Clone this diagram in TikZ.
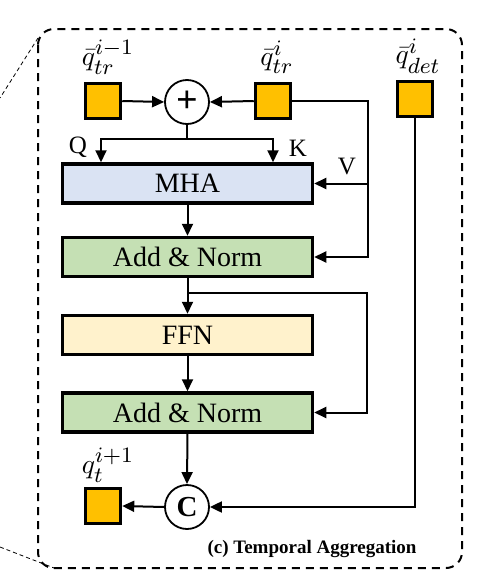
\documentclass[tikz,border=0pt]{standalone}
\usepackage{graphicx}
\usepackage{fontspec}
\setmainfont{Liberation Serif}
\usetikzlibrary{arrows.meta,calc}
\DeclareMathSizes{10}{10}{8}{6}
\definecolor{qorange}{HTML}{FFC000}
\definecolor{mhablue}{HTML}{DAE3F3}
\definecolor{normgreen}{HTML}{C5E0B4}
\definecolor{ffnyellow}{HTML}{FFF2CC}
\newcommand{\mlabtxt}[1]{\scalebox{2.75}{\fontsize{10}{12}\selectfont$#1$}}
\tikzset{
  blk/.style={draw=black, line width=3.5pt, minimum width=250pt, minimum height=39pt, inner sep=0pt, font=\fontsize{28}{30}\selectfont},
  qsq/.style={draw=black, line width=3.5pt, fill=qorange, minimum width=35pt, minimum height=35pt, inner sep=0pt},
  opc/.style={draw=black, line width=1.8pt, circle, fill=white, minimum size=44pt, inner sep=0pt},
  arr/.style={line width=2pt, -{Triangle[length=12pt,width=11pt]}},
  ln/.style={line width=2pt},
  mlab/.style={inner sep=0pt},
  qkv/.style={inner sep=0pt, font=\fontsize{25}{28}\selectfont}
}
\begin{document}
\begin{tikzpicture}[x=1pt,y=-1pt]
\useasboundingbox (0,0) rectangle (483,576);
% outer dashed frame
\draw[line width=2pt, dash pattern=on 8pt off 6pt, rounded corners=16pt] (38,29) rectangle (462,568);
\draw[line width=0.8pt, dash pattern=on 4pt off 3pt] (38,38) -- (0,98);
\draw[line width=0.8pt, dash pattern=on 4pt off 3pt] (0,547) -- (54,568);

% squares
\node[qsq] (s1) at (103,101) {};
\node[qsq] (s2) at (273,101) {};
\node[qsq] (s3) at (415,99) {};
\node[qsq] (s4) at (103,506) {};
% labels
\node[mlab] (l1) at (108,57) {\mlabtxt{\bar{q}_{tr}^{i-1}}};
\node[mlab] (l2) at (277,57) {\mlabtxt{\bar{q}_{tr}^{i}}};
\node[mlab] (l3) at (418,56) {\mlabtxt{\bar{q}_{det}^{i}}};
\node[mlab] (l4) at (108,465) {\mlabtxt{q_{t}^{i+1}}};

% operators
\node[opc, font=\fontsize{38}{38}\selectfont\bfseries] (plus) at (187,102) {+};
\node[opc, font=\fontsize{29}{30}\selectfont\bfseries] (cc) at (187,507) {C};

% blocks
\node[blk, fill=mhablue] (mha) at (187.5,183.5) {MHA};
\node[blk, fill=normgreen] (an1) at (187.5,257) {Add \& Norm};
\node[blk, fill=ffnyellow] (ffn) at (187.5,335) {FFN};
\node[blk, fill=normgreen] (an2) at (187.5,412.5) {Add \& Norm};

% coordinates
\coordinate (qsplit) at (187,139);
\coordinate (qx) at (101,139);
\coordinate (kx) at (273,139);
\coordinate (vx) at (368,101);
\coordinate (b2) at (187,293);
\coordinate (b2r) at (367,293);

% Q K V labels
\node[qkv] (ql) at (78,147) {Q};
\node[qkv] (kl) at (298,148) {K};
\node[qkv] (vl) at (347,167) {V};

% connectors
\draw[arr] (s1.east) -- (plus.west);
\draw[arr] (s2.west) -- (plus.east);
\draw[ln] (plus.south) -- (qsplit);
\draw[arr] (qsplit) -- (qx) -- (qx |- mha.north);
\draw[arr] (qsplit) -- (kx) -- (kx |- mha.north);
\draw[arr] (s2.east) -- (vx) |- (an1.east);
\draw[arr] (vx |- mha.east) -- (mha.east);
\draw[arr] (mha.south) -- (an1.north);
\draw[arr] (an1.south) -- (ffn.north);
\draw[arr] (b2) -- (b2r) |- (an2.east);
\draw[arr] (ffn.south) -- (an2.north);
\draw[arr] (an2.south) -- (cc.north);
\draw[arr] (s3.south) |- (cc.east);
\draw[arr] (cc.west) -- (s4.east);

% title
\node[inner sep=0pt, font=\fontsize{19}{22}\selectfont\bfseries] (title) at (312,549) {(c) Temporal Aggregation};
\end{tikzpicture}
\end{document}
